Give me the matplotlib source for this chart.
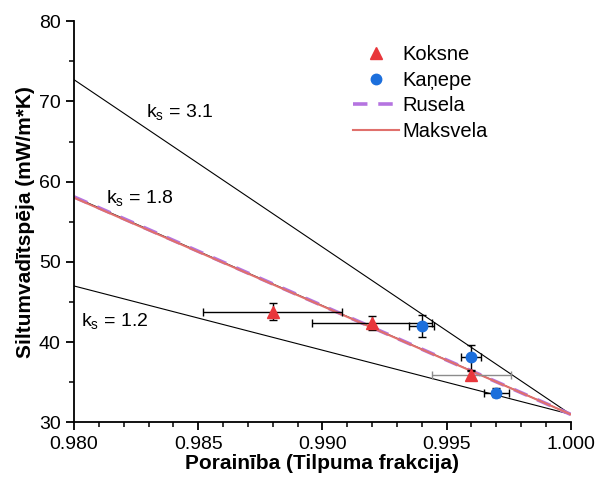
import numpy as np
import matplotlib.pyplot as plt
from matplotlib.ticker import MultipleLocator

plt.rcParams['font.family'] = ['Liberation Sans', 'DejaVu Sans']

# model lines (porosity from 0.980 to 1.000)
x_ends = [0.980, 1.000]
ks31 = [72.7, 31.0]
ks18 = [58.1, 31.0]
ks12 = [47.0, 31.0]
rusela = [58.1, 31.0]
maksvela = [58.0, 31.0]

# measurements
koksne_x = [0.988, 0.992, 0.996]
koksne_y = [43.8, 42.4, 35.9]
koksne_xerr = [0.0028, 0.0024, 0.0016]
koksne_yerr = [1.1, 0.85, 0.5]

kanepe_x = [0.994, 0.996, 0.997]
kanepe_y = [42.0, 38.1, 33.7]
kanepe_xerr = [0.0005, 0.0004, 0.0005]
kanepe_yerr = [1.35, 1.6, 0.55]

fig = plt.figure(figsize=(5.97, 4.8), dpi=100)
ax = fig.add_axes([0.124, 0.120, 0.832, 0.836])

ax.plot(x_ends, ks31, color='black', lw=0.8)
ax.plot(x_ends, ks18, color='black', lw=0.8)
ax.plot(x_ends, ks12, color='black', lw=0.8)
l_rus, = ax.plot(x_ends, rusela, color='#b574e0', lw=2.6, ls=(0, (4, 3)), label='Rusela')
l_max, = ax.plot(x_ends, maksvela, color='#e0706c', lw=1.5, label='Maksvela')

# error bars (last Koksne x-bar is grey in the original)
ax.errorbar(koksne_x[:2], koksne_y[:2], xerr=koksne_xerr[:2], yerr=koksne_yerr[:2],
            fmt='none', ecolor='black', elinewidth=1, capsize=3, capthick=1, zorder=3)
ax.errorbar(koksne_x[2:], koksne_y[2:], xerr=koksne_xerr[2:], fmt='none',
            ecolor='#8c8c8c', elinewidth=1, capsize=3, capthick=1, zorder=3)
ax.errorbar(koksne_x[2:], koksne_y[2:], yerr=koksne_yerr[2:], fmt='none',
            ecolor='black', elinewidth=1, capsize=3, capthick=1, zorder=3)
ax.errorbar(kanepe_x, kanepe_y, xerr=kanepe_xerr, yerr=kanepe_yerr,
            fmt='none', ecolor='black', elinewidth=1, capsize=3, capthick=1, zorder=3)

l_kok, = ax.plot(koksne_x, koksne_y, ls='none', marker='^', ms=8, color='#e8363b',
                 label='Koksne', zorder=4)
l_kan, = ax.plot(kanepe_x, kanepe_y, ls='none', marker='o', ms=7.5, color='#1c6fdc',
                 label='Kaņepe', zorder=4)

ax.text(0.9829, 68.6, r'k$_\mathregular{s}$ = 3.1', fontsize=14, va='center')
ax.text(0.9813, 57.8, r'k$_\mathregular{s}$ = 1.8', fontsize=14, va='center')
ax.text(0.9803, 42.5, r'k$_\mathregular{s}$ = 1.2', fontsize=14, va='center')

ax.legend(handles=[l_kok, l_kan, l_rus, l_max], loc='upper left',
          bbox_to_anchor=(0.545, 0.96), frameon=False, fontsize=14.5,
          handlelength=2.3, handletextpad=0.15, labelspacing=0.32, borderaxespad=0)

ax.set_xlim(0.980, 1.000)
ax.set_ylim(30, 80)
ax.xaxis.set_major_locator(MultipleLocator(0.005))
ax.xaxis.set_minor_locator(MultipleLocator(0.001))
ax.yaxis.set_major_locator(MultipleLocator(10))
ax.yaxis.set_minor_locator(MultipleLocator(5))
ax.xaxis.set_major_formatter(plt.FormatStrFormatter('%.3f'))

for s in ['top', 'right']:
    ax.spines[s].set_visible(False)
for s in ['left', 'bottom']:
    ax.spines[s].set_linewidth(1.3)
ax.tick_params(which='major', length=6, width=1.3, labelsize=14)
ax.tick_params(which='minor', length=3.5, width=1.1)

ax.set_xlabel('Porainība (Tilpuma frakcija)', fontsize=15, fontweight='bold', labelpad=1)
ax.set_ylabel('Siltumvadītspēja (mW/m*K)', fontsize=15, fontweight='bold', labelpad=3)

fig.savefig('out.png', dpi=100)
